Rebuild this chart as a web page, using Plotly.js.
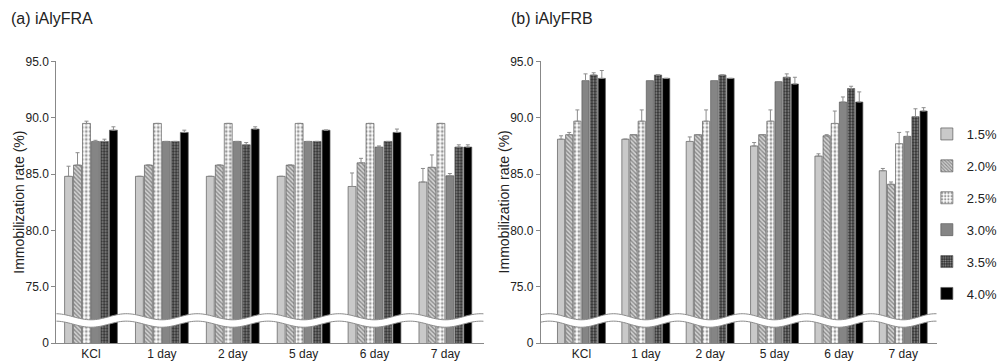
<!DOCTYPE html>
<html><head><meta charset="utf-8">
<script src="https://cdn.plot.ly/plotly-3.0.1.min.js"></script>
<style>html,body{margin:0;padding:0;background:#fff}#c{width:1003px;height:363px}</style>
</head><body><div id="c"></div>
<script>
const cats = ['KCl','1 day','2 day','5 day','6 day','7 day'];
const seriesNames = ['1.5%','2.0%','2.5%','3.0%','3.5%','4.0%'];
const yTickVals = [70,75,80,85,90,95];
const yTickText = ['0','75.0','80.0','85.0','90.0','95.0'];

// (a) iAlyFRA
const a15 = [84.8,84.8,84.8,84.8,83.9,84.3];
const a20 = [85.8,85.8,85.8,85.8,86.0,85.6];
const a25 = [89.5,89.5,89.5,89.5,89.5,89.5];
const a30 = [87.9,87.9,87.9,87.9,87.4,84.85];
const a35 = [87.9,87.9,87.6,87.9,87.9,87.4];
const a40 = [88.9,88.7,89.0,88.9,88.7,87.4];
const ea15 = [0.9,0,0,0,1.2,1.2];
const ea20 = [1.1,0,0,0,0.4,1.1];
const ea25 = [0.2,0,0,0,0,0];
const ea30 = [0.1,0,0,0,0.1,0.2];
const ea35 = [0.2,0,0.2,0,0,0.2];
const ea40 = [0.3,0.2,0.2,0,0.3,0.2];

// (b) iAlyFRB
const b15 = [88.1,88.1,87.9,87.5,86.6,85.3];
const b20 = [88.5,88.5,88.5,88.5,88.4,84.1];
const b25 = [89.7,89.7,89.7,89.7,89.5,87.7];
const b30 = [93.3,93.3,93.3,93.2,91.4,88.35];
const b35 = [93.8,93.8,93.8,93.6,92.6,90.1];
const b40 = [93.5,93.5,93.5,93.0,91.4,90.6];
const eb15 = [0.3,0,0.4,0.3,0.2,0.2];
const eb20 = [0.2,0,0,0,0.1,0.2];
const eb25 = [1.0,1.0,1.0,1.0,1.1,1.0];
const eb30 = [0.6,0,0,0,0.45,0.4];
const eb35 = [0.2,0,0,0.3,0.2,0.7];
const eb40 = [0.7,0,0,0.6,0.9,0.3];

const styles = [
  {color:'#dcdcdc', pattern:{shape:'.', fgcolor:'#a8a8a8', bgcolor:'#e4e4e4', size:2, solidity:0.5}},
  {color:'#c0c0c0', pattern:{shape:'\\', fgcolor:'#8a8a8a', bgcolor:'#d2d2d2', size:3, solidity:0.45}},
  {color:'#f4f4f4', pattern:{shape:'.', fgcolor:'#9a9a9a', bgcolor:'#ffffff', size:4, solidity:0.4}},
  {color:'#858585', pattern:{shape:''}},
  {color:'#383838', pattern:{shape:'.', fgcolor:'#9a9a9a', bgcolor:'#2e2e2e', size:3, solidity:0.4}},
  {color:'#000000', pattern:{shape:''}}
];

const dataA = [a15,a20,a25,a30,a35,a40];
const errA = [ea15,ea20,ea25,ea30,ea35,ea40];
const dataB = [b15,b20,b25,b30,b35,b40];
const errB = [eb15,eb20,eb25,eb30,eb35,eb40];

const traces = [];
function addPanel(vals, errs, xa, ya, showLeg){
  vals.forEach((v,i)=>{
    traces.push({
      type:'bar', x:cats, y:v, name:seriesNames[i], xaxis:xa, yaxis:ya,
      legendgroup:'g'+i, showlegend:showLeg,
      marker:{color:styles[i].color, pattern:styles[i].pattern, line:{color:'#5a5a5a', width:0.7}},
      error_y:{type:'data', symmetric:false, array:errs[i], arrayminus:errs[i].map(()=>0),
               color:'#8c8c8c', thickness:1, width:2},
      hoverinfo:'skip'
    });
  });
}
addPanel(dataA, errA, 'x', 'y', false);
addPanel(dataB, errB, 'x2', 'y2', true);

// break symbol (decorative wave)
function wave(xmin, xmax, yc, amp, xr, yr){
  const up=[], lo=[];
  const n=240, half=0.33;
  for(let k=0;k<=n;k++){
    const x = xmin + (xmax-xmin)*k/n;
    const y = yc + amp*Math.cos(2*Math.PI*(x-0.5));
    up.push([x, y+half]); lo.push([x, y-half]);
  }
  const line = pts => pts.map((p,j)=>(j?'L':'M')+p[0].toFixed(4)+','+p[1].toFixed(4)).join(' ');
  const band = line(up) + ' ' + lo.slice().reverse().map(p=>'L'+p[0].toFixed(4)+','+p[1].toFixed(4)).join(' ') + ' Z';
  return [
    {type:'path', xref:xr, yref:yr, path:band, fillcolor:'#ffffff', line:{width:0}, layer:'above'},
    {type:'path', xref:xr, yref:yr, path:line(up), line:{color:'#8a8a8a', width:1}, layer:'above'},
    {type:'path', xref:xr, yref:yr, path:line(lo), line:{color:'#8a8a8a', width:1}, layer:'above'}
  ];
}

const fontFam = '"Liberation Sans", Arial, sans-serif';
const yaxBase = {range:[70,95], tickvals:yTickVals, ticktext:yTickText, showgrid:false, zeroline:false,
  showline:true, linecolor:'#888', linewidth:1, ticks:'outside', ticklen:4, tickcolor:'#888',
  tickfont:{size:12, color:'#222', family:fontFam}, domain:[0.0551,0.8306], fixedrange:true};
const xaxBase = {showgrid:false, zeroline:false, showline:true, linecolor:'#888', linewidth:1, ticks:'',
  tickfont:{size:12, color:'#222', family:fontFam}, fixedrange:true};

const layout = {
  width:1003, height:363, margin:{l:0,r:0,t:0,b:0},
  paper_bgcolor:'#fff', plot_bgcolor:'#fff',
  font:{family:fontFam, color:'#222'},
  barmode:'group', bargap:0.24, bargroupgap:0.12,
  xaxis: Object.assign({}, xaxBase, {domain:[57/1003, 490/1003], range:[-0.49,5.54], anchor:'y'}),
  yaxis: Object.assign({}, yaxBase, {anchor:'x'}),
  xaxis2: Object.assign({}, xaxBase, {domain:[548/1003, 949/1003], range:[-0.63,5.52], anchor:'y2'}),
  yaxis2: Object.assign({}, yaxBase, {anchor:'x2'}),
  showlegend:true,
  legend:{x:939/1003, y:1-119/363, xanchor:'left', yanchor:'top', tracegroupgap:12,
          font:{size:13, color:'#222', family:fontFam}, bgcolor:'rgba(0,0,0,0)', itemwidth:30},
  shapes: [].concat(wave(-0.49,5.54,72.0,0.27,'x','y'), wave(-0.63,5.52,72.0,0.27,'x2','y2')),
  annotations:[
    {text:'(a) iAlyFRA', xref:'paper', yref:'paper', x:9/1003, y:1-18/363, xanchor:'left', yanchor:'middle', showarrow:false, font:{size:16, color:'#222', family:fontFam}},
    {text:'(b) iAlyFRB', xref:'paper', yref:'paper', x:516/1003, y:1-18/363, xanchor:'left', yanchor:'middle', showarrow:false, font:{size:16, color:'#222', family:fontFam}},
    {text:'Immobilization rate (%)', xref:'paper', yref:'paper', x:19/1003, y:1-202/363, textangle:-90, xanchor:'center', yanchor:'middle', showarrow:false, font:{size:14, color:'#222', family:fontFam}},
    {text:'Immobilization rate (%)', xref:'paper', yref:'paper', x:511/1003, y:1-202/363, textangle:-90, xanchor:'center', yanchor:'middle', showarrow:false, font:{size:14, color:'#222', family:fontFam}}
  ]
};
Plotly.newPlot('c', traces, layout, {displayModeBar:false, staticPlot:true});
</script>
</body></html>
